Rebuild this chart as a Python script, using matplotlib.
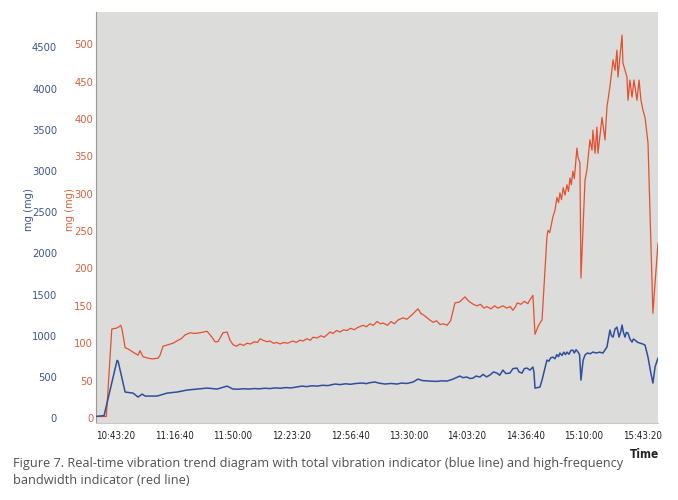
import matplotlib
matplotlib.use("Agg")
import matplotlib.pyplot as plt
from matplotlib.ticker import FixedLocator
from matplotlib import font_manager as fm

# ---- data (time in minutes after 10:00) ----
red_t = [31.9, 37.8, 40.9, 43.3, 45.0, 46.0, 46.8, 48.5, 50.5, 53.0, 55.9, 57.0, 58.7, 61.6, 64.0,
         67.3, 68.4, 70.1, 73.0, 75.8, 78.7, 80.5, 82.6, 85.5, 88.0, 91.2, 95.2, 98.0, 99.7, 101.4,
         104.3, 106.6, 108.3, 110.0, 112, 114, 116, 118, 120, 122, 124, 125.4, 127, 129.4, 131, 133,
         135, 136.8, 139, 141, 144.2, 146, 148, 150, 152, 154, 155.6, 158, 160, 162, 165.3, 167, 169,
         171, 173, 175, 177, 179, 181, 184.1, 186, 188, 190, 192.1, 194, 195.5, 198, 200, 202, 204,
         206.9, 209, 212, 215.4, 217, 219, 222.2, 224, 226, 228, 230, 232, 234, 236.5, 239, 242.2,
         244, 245, 247, 249, 251, 253, 254.7, 257, 259, 261, 263.8, 266, 268, 269.5, 271, 272, 274,
         276, 278, 279.2, 280.9, 282.1, 283.8, 284.9, 286.1, 288.9, 289.5, 290.5, 292.3, 293.5, 294.6,
         295.5, 296.3, 297.2, 298.2, 299.2, 300.3, 301.2, 302.0, 302.8, 303.7, 304.5, 305.3, 306.0,
         306.6, 307.7, 308.3, 309.4, 310.6, 311.7, 313.4, 314.6, 315.1, 316.3, 317.4, 318.0, 320.3,
         322.0, 323.1, 324.8, 326.6, 327.7, 328.8, 329.4, 331.7, 332.2, 334.5, 335.1, 336.2, 337.4,
         338.5, 340.2, 341.4, 342.5, 343.6, 344.8, 346.5, 349.3, 350.5, 352.2]
red_v = [2, 2, 119, 120, 122, 124, 118, 94, 92, 88, 84, 90, 82, 80, 79,
         80, 84, 96, 98, 100, 104, 106, 111, 114, 113, 114, 116, 108, 102, 102,
         114, 115, 104, 98, 96, 99, 97, 100, 99, 102, 101, 106, 104, 102, 103, 100,
         101, 99, 101, 100, 103, 101, 104, 103, 106, 104, 108, 107, 110, 108, 115, 113, 117,
         115, 118, 117, 120, 118, 121, 124, 122, 126, 124, 129, 126, 127, 124, 129, 126, 131,
         134, 132, 138, 146, 140, 137, 131, 128, 130, 125, 126, 124, 130, 154, 155, 162,
         157, 155, 152, 150, 152, 147, 149, 146, 150, 147, 150, 147, 149, 144, 149, 154, 152,
         156, 153, 158, 164, 112, 122, 127, 131, 242, 251, 248, 269, 278, 295,
         288, 301, 292, 308, 298, 312, 303, 321, 312, 330, 320, 342, 361,
         349, 341, 187, 251, 318, 332, 372, 358, 385, 354, 389, 354, 402,
         372, 416, 443, 479, 465, 492, 456, 512, 475, 456, 425, 452, 429,
         452, 425, 452, 425, 412, 402, 368, 140, 180, 234]

blue_t = [31.9, 36.5, 39.9, 43.9, 44.5, 48.5, 53.0, 55.9, 58.2, 59.9, 66.7, 72.4, 78.1, 83.8, 89.5,
          95.2, 100.9, 106.6, 110.0, 113, 116, 119, 122, 125, 128, 131, 134, 137, 140, 143, 146,
          149.3, 152, 155, 158, 161, 164, 168.1, 171, 174, 177, 180, 183.5, 186, 188, 190.9, 193,
          196.6, 200, 203.4, 206, 209, 212.6, 215.4, 218, 222.2, 226, 229, 232, 235, 239.3, 241,
          243.3, 245, 246.8, 248.5, 250.7, 252.5, 254.5, 256.4, 258.5, 260.4, 262, 263.8, 265.5,
          267.8, 269.5, 271.8, 273, 274.7, 276, 277.5, 279.2, 280.9, 281.5, 282.1, 284.9, 286.1,
          288.9, 290, 291, 292.3, 293.5, 294.5, 295.5, 296.3, 297.5, 298.5, 299.5, 300.3, 301.5,
          302.5, 303.7, 304.5, 305.5, 306.6, 307.5, 308.3, 309.5, 310.6, 312, 313.5, 315.1, 317,
          319, 320.8, 323.1, 324.8, 325.7, 326.6, 327.7, 328.8, 330.0, 331.0, 331.7, 332.5, 333.4,
          334.2, 335.1, 336.2, 337.4, 338.2, 339.1, 340.5, 341.9, 343.4, 344.8, 346.5, 348, 349.3,
          350.5, 352.2]
blue_v = [20, 30, 340, 700, 690, 316, 303, 255, 291, 267, 267, 303, 316, 340, 352,
          364, 352, 388, 352, 350, 356, 352, 358, 355, 362, 358, 366, 362, 370, 366, 376,
          388, 382, 392, 388, 398, 394, 413, 406, 416, 410, 420, 425, 418, 430, 437, 425,
          413, 420, 413, 425, 420, 437, 473, 455, 449, 445, 452, 449, 470, 510, 490,
          498, 480, 485, 510, 498, 530, 500, 522, 560, 546, 520, 582, 540,
          546, 600, 607, 560, 546, 600, 607, 582, 619, 558, 364, 376, 461,
          704, 690, 730, 740, 720, 770, 745, 789, 760, 800, 770, 801, 775,
          820, 825, 790, 830, 801, 770, 461, 700, 765, 790, 780, 801, 790,
          800, 789, 862, 1068, 1000, 983, 1080, 1104, 983, 1050, 1129, 1040, 983,
          1040, 1032, 960, 922, 960, 947, 920, 910, 900, 886, 740, 560, 425,
          619, 728]

red_ticks = [0, 50, 100, 150, 200, 250, 300, 350, 400, 450, 500]
blue_ticks = [0, 500, 1000, 1500, 2000, 2500, 3000, 3500, 4000, 4500]
x_tick_labels = ["10:43:20", "11:16:40", "11:50:00", "12:23:20", "12:56:40",
                 "13:30:00", "14:03:20", "14:36:40", "15:10:00", "15:43:20"]
x_tick_pos = [43.333 + 33.333 * i for i in range(len(x_tick_labels))]

RED = "#e4502f"
BLUE = "#2f4e9c"
RED_TXT = "#d9603f"
BLUE_TXT = "#3f5590"


def find_cond(bold=False):
    out = []
    for f in fm.fontManager.ttflist:
        if f.style != "normal":
            continue
        w = f.weight if isinstance(f.weight, int) else {"normal": 400, "regular": 400, "bold": 700}.get(f.weight, 400)
        if bold and w < 600:
            continue
        if not bold and w != 400:
            continue
        if "Narrow" in f.name or "Condensed" in f.name or f.stretch in ("condensed", "semi-condensed"):
            out.append(f)
    return out


reg = find_cond(False)
bld = find_cond(True)


def fp(size, bold=False):
    lst = bld if bold else reg
    if lst:
        return fm.FontProperties(fname=lst[0].fname, size=size)
    return fm.FontProperties(family="Liberation Sans", size=size, weight="bold" if bold else "normal")


fig = plt.figure(figsize=(6.78, 5.0), dpi=100)
ax = fig.add_axes([96 / 678, 1 - 423 / 500, (658 - 96) / 678, (423 - 12) / 500])
ax.set_facecolor("#dcdcda")
ax.set_xlim(31.9, 352.2)
ax.set_ylim(-6.7, 543)

ax2 = ax.twinx()
ax2.set_ylim(-60, 4930)

ax2.plot(blue_t, blue_v, color=BLUE, lw=1.1, zorder=3)
ax.plot(red_t, red_v, color=RED, lw=0.9, zorder=3)
ax.set_zorder(1)
ax2.set_zorder(2)
ax2.patch.set_visible(False)

for s in ["top", "right"]:
    ax.spines[s].set_visible(False)
ax.spines["left"].set_color("#9a9a9a")
ax.spines["bottom"].set_color("#c8c8c8")
for s in ["top", "right", "bottom"]:
    ax2.spines[s].set_visible(False)

ax.yaxis.set_major_locator(FixedLocator(red_ticks))
ax.tick_params(axis="y", length=0, pad=2, labelcolor=RED_TXT)
ax.set_yticklabels([str(v) for v in red_ticks], fontproperties=fp(8))

ax2.yaxis.set_ticks_position("left")
ax2.yaxis.set_label_position("left")
ax2.spines["left"].set_position(("outward", 26))
ax2.spines["left"].set_visible(False)
ax2.yaxis.set_major_locator(FixedLocator(blue_ticks))
ax2.tick_params(axis="y", length=0, pad=2, labelcolor=BLUE_TXT)
ax2.set_yticklabels([str(v) for v in blue_ticks], fontproperties=fp(8))

ax.set_xticks(x_tick_pos)
ax.set_xticklabels(x_tick_labels, fontproperties=fp(7), color="#222222")
ax.tick_params(axis="x", length=0, pad=6)

fig.text(29 / 678, 1 - 210 / 500, "mg (mg)", rotation=90, ha="center", va="center",
         color=BLUE_TXT, fontproperties=fp(8))
fig.text(70 / 678, 1 - 210 / 500, "mg (mg)", rotation=90, ha="center", va="center",
         color=RED_TXT, fontproperties=fp(8))

fig.text(645 / 678, 1 - 455 / 500, "Time", ha="center", va="center",
         color="#222222", fontproperties=fp(8.5, True))

fig.text(13 / 678, 1 - 464 / 500,
         "Figure 7. Real-time vibration trend diagram with total vibration indicator (blue line) and high-frequency",
         ha="left", va="center", fontsize=9.2, family=["Open Sans", "DejaVu Sans"], color="#505050")
fig.text(13 / 678, 1 - 481 / 500, "bandwidth indicator (red line)",
         ha="left", va="center", fontsize=9.2, family=["Open Sans", "DejaVu Sans"], color="#505050")

fig.savefig("out.png", dpi=100)
